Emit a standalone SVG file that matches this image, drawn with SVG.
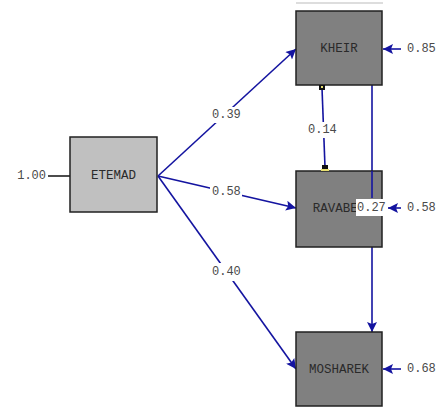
<svg xmlns="http://www.w3.org/2000/svg" width="442" height="407" viewBox="0 0 442 407">
<defs>
<style>
.box{stroke:#202020;stroke-width:1.5}
.obs{fill:#808080}
.lat{fill:#c0c0c0}
.lbl{font-family:"Liberation Mono",monospace;font-size:12.5px;fill:#2a2a2a;text-anchor:middle;dominant-baseline:central}
.num{font-family:"Liberation Mono",monospace;font-size:12px;fill:#4a4a4a;dominant-baseline:central}
.ln{stroke:#1414a0;stroke-width:1.6;fill:none}
.bg{fill:#fff}
</style>
<marker id="ahs" viewBox="0 0 10 10" refX="10" refY="5" markerWidth="16" markerHeight="10" markerUnits="userSpaceOnUse" orient="auto">
<path d="M0,0 L10,5 L0,10 L2,5 z" fill="#1414a0"/>
</marker>
</defs>
<rect width="442" height="407" fill="#fff"/>
<line x1="296" y1="3" x2="383" y2="3" stroke="#bbb" stroke-width="1"/>
<g id="connectors">
<line class="ln" x1="158" y1="176" x2="296" y2="49" marker-end="url(#ahs)"/>
<line class="ln" x1="158" y1="176" x2="296" y2="208" marker-end="url(#ahs)"/>
<line class="ln" x1="158" y1="176" x2="296" y2="369" marker-end="url(#ahs)"/>
<line class="ln" x1="372" y1="85" x2="372" y2="332" marker-end="url(#ahs)"/>
<line class="ln" x1="322" y1="88" x2="325" y2="167"/>
<line x1="48" y1="176" x2="70" y2="176" stroke="#202020" stroke-width="1.6"/>
<line class="ln" x1="401" y1="49" x2="383" y2="49" marker-end="url(#ahs)"/>
<line class="ln" x1="401" y1="208" x2="388" y2="208" marker-end="url(#ahs)"/>
<line class="ln" x1="401" y1="369" x2="383" y2="369" marker-end="url(#ahs)"/>
<rect class="bg" x="210" y="107" width="32" height="16"/>
<rect class="bg" x="210" y="184" width="32" height="16"/>
<rect class="bg" x="210" y="263" width="32" height="18"/>
<rect class="bg" x="308" y="122" width="30" height="16"/>
<text class="num" x="212" y="115">0.39</text>
<text class="num" x="212" y="192">0.58</text>
<text class="num" x="212" y="272">0.40</text>
<text class="num" x="308" y="130">0.14</text>
<text class="num" x="46" y="176" text-anchor="end">1.00</text>
<text class="num" x="407" y="49">0.85</text>
<text class="num" x="407" y="208">0.58</text>
<text class="num" x="407" y="369">0.68</text>
</g>
<g id="ETEMAD">
<rect class="box lat" x="70" y="137" width="87" height="75"/>
<text class="lbl" x="113.5" y="176">ETEMAD</text>
</g>
<g id="KHEIR">
<rect class="box obs" x="296" y="11" width="86" height="74"/>
<text class="lbl" x="339" y="49">KHEIR</text>
<rect x="319" y="85" width="6" height="5" fill="#111"/>
<rect x="321" y="86" width="2" height="2" fill="#e8e070"/>
</g>
<g id="RAVABET">
<rect class="box obs" x="296" y="171" width="86" height="76"/>
<text class="lbl" x="339" y="209">RAVABET</text>
<rect x="322" y="165" width="6" height="6" fill="#111"/>
<rect x="321" y="169" width="8" height="2" fill="#e8e070"/>
<line class="ln" x1="372" y1="171" x2="372" y2="198"/>
<rect x="356" y="199" width="31" height="17" fill="#fff"/>
<text class="num" x="357" y="208">0.27</text>
</g>
<g id="MOSHAREK">
<rect class="box obs" x="296" y="332" width="86" height="74"/>
<text class="lbl" x="339" y="370">MOSHAREK</text>
</g>
</svg>
